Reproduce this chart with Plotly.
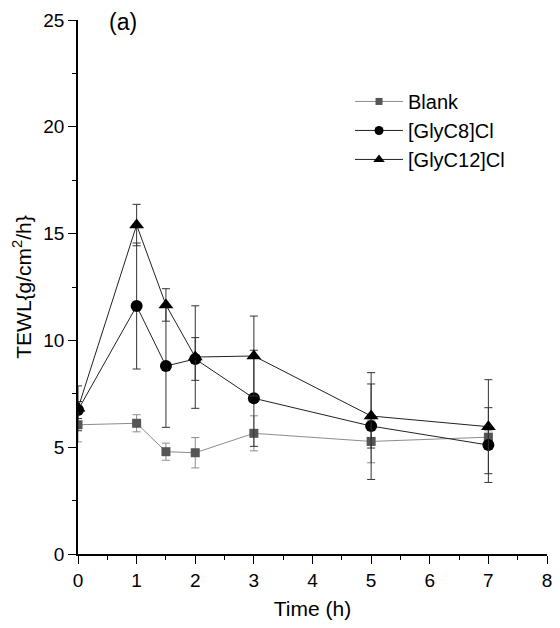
import plotly.graph_objects as go

# Sampling times (h)
time_h = [0, 1, 1.5, 2, 3, 5, 7]

# TEWL means and standard deviations per treatment
blank_mean = [6.05, 6.12, 4.79, 4.74, 5.65, 5.27, 5.47]
blank_sd = [0.8, 0.4, 0.4, 0.71, 0.82, 1.0, 0.3]

glyc8_mean = [6.74, 11.61, 8.80, 9.13, 7.29, 5.99, 5.10]
glyc8_sd = [0.4, 2.95, 2.87, 1.0, 2.25, 2.5, 1.75]

glyc12_mean = [6.82, 15.40, 11.66, 9.22, 9.27, 6.46, 5.96]
glyc12_sd = [1.05, 0.97, 0.76, 2.4, 1.87, 1.5, 2.2]

x_ticks = list(range(0, 9))
y_ticks = [0, 5, 10, 15, 20, 25]

font_family = "Liberation Sans, Arial, sans-serif"

series = [
    dict(name="Blank", mean=blank_mean, sd=blank_sd, symbol="square",
         size=9, legend_size=7, mcolor="#555555", lcolor="#8c8c8c", ecolor="#8c8c8c"),
    dict(name="[GlyC8]Cl", mean=glyc8_mean, sd=glyc8_sd, symbol="circle",
         size=12, legend_size=9, mcolor="black", lcolor="#222222", ecolor="#333333"),
    dict(name="[GlyC12]Cl", mean=glyc12_mean, sd=glyc12_sd, symbol="triangle-up",
         size=13, legend_size=10, mcolor="black", lcolor="#222222", ecolor="#333333"),
]

fig = go.Figure()

for s in series:
    # data trace
    fig.add_trace(go.Scatter(
        x=time_h, y=s["mean"], name=s["name"], mode="lines+markers",
        line=dict(color=s["lcolor"], width=1),
        marker=dict(symbol=s["symbol"], size=s["size"], color=s["mcolor"]),
        error_y=dict(type="data", array=s["sd"], visible=True,
                     color=s["ecolor"], thickness=1, width=4),
        showlegend=False, legendgroup=s["name"],
    ))
    # legend entry with smaller symbol
    fig.add_trace(go.Scatter(
        x=[None], y=[None], name=s["name"], mode="lines+markers",
        line=dict(color=s["lcolor"], width=1),
        marker=dict(symbol=s["symbol"], size=s["legend_size"], color=s["mcolor"]),
        showlegend=True, legendgroup=s["name"],
    ))

axis_common = dict(
    showline=True, linecolor="black", linewidth=1.5,
    ticks="outside", ticklen=8, tickwidth=1.2, tickcolor="black",
    showgrid=False, zeroline=False, mirror=False,
    tickfont=dict(size=19, color="black", family=font_family),
)

fig.update_layout(
    width=560, height=628,
    margin=dict(l=78, r=8, t=20, b=74),
    paper_bgcolor="white", plot_bgcolor="white",
    font=dict(family=font_family, color="black"),
    xaxis=dict(
        range=[0, 8], tickvals=x_ticks,
        title=dict(text="Time (h)", font=dict(size=21), standoff=12),
        minor=dict(ticks="outside", ticklen=4, tickwidth=1, tickcolor="black", dtick=0.5),
        **axis_common,
    ),
    yaxis=dict(
        range=[0, 25], tickvals=y_ticks,
        title=dict(text="TEWL{g/cm<sup>2</sup>/h}", font=dict(size=21), standoff=6),
        minor=dict(ticks="outside", ticklen=4, tickwidth=1, tickcolor="black", dtick=2.5),
        **axis_common,
    ),
    legend=dict(
        x=0.58, y=0.884, xanchor="left", yanchor="top",
        font=dict(size=20, color="black"),
        bgcolor="rgba(0,0,0,0)", itemwidth=48, tracegroupgap=0,
    ),
    showlegend=True,
    annotations=[dict(
        text="(a)", x=0.061, y=0.996, xref="paper", yref="paper",
        xanchor="left", yanchor="middle", showarrow=False,
        font=dict(size=23, color="black"),
    )],
)

fig.write_html("out.html")
